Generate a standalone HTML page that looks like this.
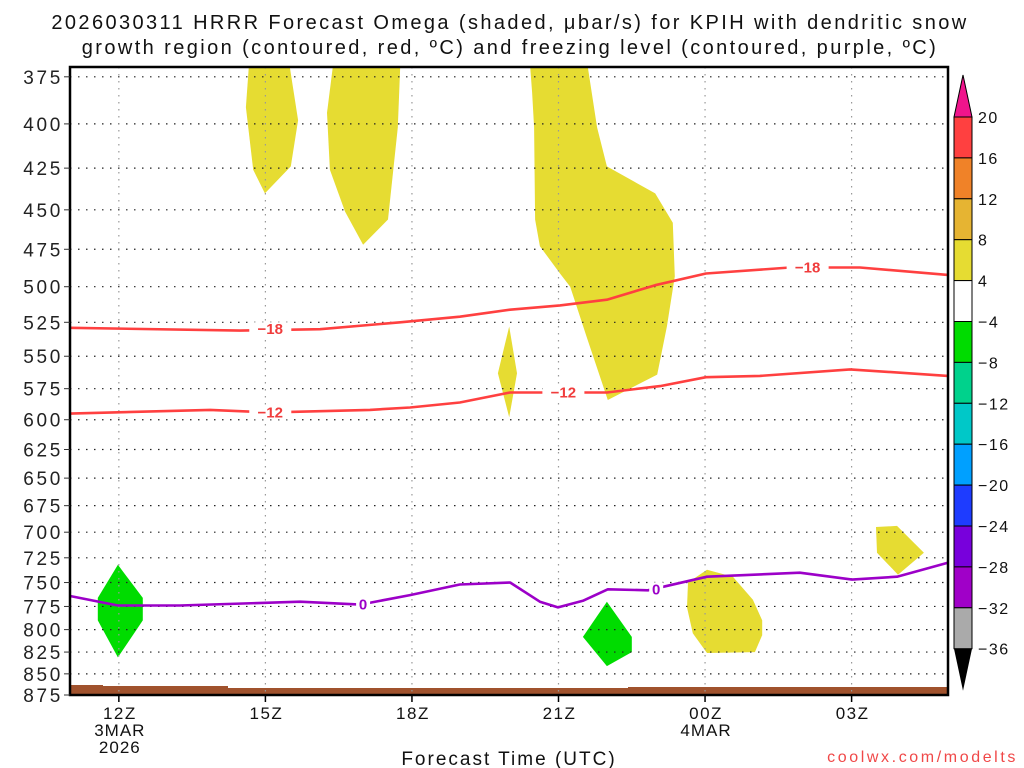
<!DOCTYPE html>
<html><head><meta charset="utf-8"><style>
html,body{margin:0;padding:0;background:#fff;width:1024px;height:768px;overflow:hidden}
svg{display:block;font-family:"Liberation Sans",sans-serif}
</style></head><body>
<svg id="chart" width="1024" height="768" viewBox="0 0 1024 768">
<text x="510" y="29" text-anchor="middle" font-size="20" letter-spacing="2.4" fill="#111">2026030311 HRRR Forecast Omega (shaded, μbar/s) for KPIH with dendritic snow</text>
<text x="510" y="54" text-anchor="middle" font-size="20" letter-spacing="2.4" fill="#111">growth region (contoured, red, ºC) and freezing level (contoured, purple, ºC)</text>
<g id="shapes"></g>
<g id="grid"></g>
<g id="lines"></g>
<g id="axes"></g>
<g id="cbar"></g>
<text x="509" y="765" text-anchor="middle" font-size="19" letter-spacing="2" fill="#111">Forecast Time (UTC)</text>
<text x="1018" y="762" text-anchor="end" font-size="16" fill="#f04848" letter-spacing="2.6">coolwx.com/modelts</text>
</svg>
<script>
// ---- data ----
const pressureTicks=[375,400,425,450,475,500,525,550,575,600,625,650,675,700,725,750,775,800,825,850,875];
const timeTickHours=[1,4,7,10,13,16];
const timeTickLabels=["12Z","15Z","18Z","21Z","00Z","03Z"];
const timeTickSub=["3MAR\n2026","","","","4MAR",""];
// shaded regions: [hour since 11Z, pressure]
const yellow1=[[3.66,370],[4.5,370],[4.67,398],[4.52,424],[3.99,440],[3.75,426],[3.6,391]];
const yellow2=[[5.38,370],[6.76,370],[6.71,402],[6.51,456],[6.0,472],[5.63,451],[5.32,426],[5.26,394]];
const yellow3=[[9.42,370],[10.6,370],[10.79,402],[10.99,424],[11.98,440],[12.34,458],[12.38,493],[12.22,528],[12.02,564],[11.01,584],[10.58,536],[10.24,500],[10.03,491],[9.62,473],[9.52,456],[9.5,402],[9.46,383]];
const yellow4=[[8.99,528],[9.15,563],[8.99,598],[8.76,563]];
const yellow5=[[13.04,737],[13.57,744],[13.98,768],[14.17,790],[14.17,806],[14.02,825],[13.04,826],[12.75,804],[12.63,776],[12.65,750]];
const yellow6=[[16.5,695],[16.93,694],[17.48,720],[16.95,742],[16.52,720]];
const green1=[[0.98,732],[1.49,766],[1.49,790],[0.98,831],[0.57,790],[0.57,766]];
const green2=[[10.99,770],[11.5,808],[11.5,825],[10.99,841],[10.5,808]];
// contours
const m18Hours=[0,3.48,5.12,6.76,7.98,9.01,10.03,10.99,11.98,13.02,14.74,16.17,17.97];
const m18Press=[529,531,530,525,521,516,513,509,499,491,487,487,492];
const m12Hours=[0,2.87,4.09,6.14,6.96,7.98,9.01,9.72,10.99,12.08,13.02,14.12,15.97,17.97];
const m12Press=[595,592,594,592,590,586,578,578,578,573,566,565,560,565];
const frzHours=[0,0.98,2.25,4.71,5.94,6.96,7.98,9.01,9.62,9.99,10.5,11.01,11.83,13.04,14.94,16.01,16.93,17.97];
const frzPress=[764,774,774,770,773,763,752,750,770,776,769,757,758,744,740,747,744,730];
const labels=[["−18",4.1,530,"#f03c3c"],["−18",15.1,487,"#f03c3c"],["−12",4.1,594,"#f03c3c"],["−12",10.1,578,"#f03c3c"],["0",6.0,773,"#9c00c8"],["0",12.0,757,"#9c00c8"]];
const cbLevels=["20","16","12","8","4","−4","−8","−12","−16","−20","−24","−28","−32","−36"];
const cbColors=["#ff4040","#f08228","#e6b432","#e6dc32","#ffffff","#00dc00","#00d28c","#00c8c8","#00a0ff","#1e3cff","#7800dc","#a000c8","#aaaaaa"];
// ---- axes ----
const X0=70,X1=948,Y0=67,Y1=695,HPX=48.85,LOGK=729.6;
function x(h){return X0+HPX*h;}
function y(p){return Y1-LOGK*Math.log(875/p);}
const NS="http://www.w3.org/2000/svg";
function mk(tag,attrs,parent){const e=document.createElementNS(NS,tag);for(const k in attrs)e.setAttribute(k,attrs[k]);parent.appendChild(e);return e;}
const shapes=document.getElementById('shapes'),grid=document.getElementById('grid'),lines=document.getElementById('lines'),axes=document.getElementById('axes'),cbar=document.getElementById('cbar');
function poly(pts,fill,name){const e=mk('polygon',{points:pts.map(q=>x(q[0]).toFixed(1)+','+y(q[1]).toFixed(1)).join(' '),fill:fill},shapes);

}
poly(yellow1,'#e6dc32','upward-omega-area-1');poly(yellow2,'#e6dc32','upward-omega-area-2');poly(yellow3,'#e6dc32','upward-omega-area-3');
poly(yellow4,'#e6dc32','upward-omega-area-4');poly(yellow5,'#e6dc32','upward-omega-area-5');poly(yellow6,'#e6dc32','upward-omega-area-6');
poly(green1,'#00dc00','downward-omega-area-1');poly(green2,'#00dc00','downward-omega-area-2');
// terrain
const terr=mk('path',{d:`M${X0},695 L${X0},685 L103,685 L103,686 L228,686 L228,688 L628,688 L628,687 L${X1},687 L${X1},695 Z`,fill:'#a0522d'},shapes);


// grid
pressureTicks.forEach(p=>{if(p===875)return;const l=mk('line',{x1:X0,x2:X1,y1:y(p),y2:y(p),stroke:'#222','stroke-width':1.2,'stroke-dasharray':'1.5 6.5'},grid);

});
timeTickHours.forEach((h,i)=>{const l=mk('line',{x1:x(h),x2:x(h),y1:Y0,y2:Y1,stroke:'#999','stroke-width':1.2,'stroke-dasharray':'1.5 5.5'},grid);

});
// contours
function pl(hs,ps,color,name){const d=hs.map((h,i)=>(i?'L':'M')+x(h).toFixed(1)+','+y(ps[i]).toFixed(1)).join(' ');const e=mk('path',{d:d,fill:'none',stroke:color,'stroke-width':2.6,'stroke-linejoin':'round'},lines);

}
pl(m18Hours,m18Press,'#ff4040','contour-minus-18');pl(m12Hours,m12Press,'#ff4040','contour-minus-12');pl(frzHours,frzPress,'#9c00c8','freezing-level-0');
labels.forEach(L=>{const cx=x(L[1]),cy=y(L[2]);mk('rect',{x:cx-(L[0].length*7),y:cy-7,width:L[0].length*14,height:14,fill:'#fff'},lines);
const t=mk('text',{x:cx,y:cy+5,'text-anchor':'middle','font-size':15,'font-weight':'bold',fill:L[3]},lines);t.textContent=L[0];

});
// frame & ticks
const fr=mk('rect',{x:X0,y:Y0,width:X1-X0,height:Y1-Y0,fill:'none',stroke:'#000','stroke-width':2.5},axes);


pressureTicks.forEach(p=>{mk('line',{x1:X0-6,x2:X0,y1:y(p),y2:y(p),stroke:'#333','stroke-width':1},axes);
const t=mk('text',{x:X0-7,y:y(p)+7,'text-anchor':'end','font-size':19,'letter-spacing':2.7,fill:'#222'},axes);t.textContent=p;

});
timeTickHours.forEach((h,i)=>{mk('line',{x1:x(h),x2:x(h),y1:Y1,y2:Y1+7,stroke:'#000','stroke-width':1.5},axes);
const t=mk('text',{x:x(h)+1,y:Y1+24,'text-anchor':'middle','font-size':17,'letter-spacing':1.5,fill:'#111'},axes);t.textContent=timeTickLabels[i];


timeTickSub[i].split('\n').forEach((s,j)=>{if(!s)return;const u=mk('text',{x:x(h)+1,y:Y1+41+j*17,'text-anchor':'middle','font-size':17,'letter-spacing':1,fill:'#111'},axes);u.textContent=s;

});});
// colorbar
const CX=954,CW=18,CT=117,CS=40.9;
const up=mk('polygon',{points:`${CX},${CT} ${CX+CW},${CT} ${CX+CW/2},${CT-42}`,fill:'#f0148c',stroke:'#000','stroke-width':1},cbar);


cbColors.forEach((c,i)=>{const r=mk('rect',{x:CX,y:CT+i*CS,width:CW,height:CS,fill:c,stroke:'#000','stroke-width':1},cbar);

});
const yb=CT+cbColors.length*CS;
const dn=mk('polygon',{points:`${CX},${yb} ${CX+CW},${yb} ${CX+CW/2},${yb+42}`,fill:'#000'},cbar);


cbLevels.forEach((s,i)=>{const t=mk('text',{x:CX+24,y:CT+i*CS+6,'font-size':16,'letter-spacing':1.5,fill:'#111'},cbar);t.textContent=s;

});
</script>
</body></html>
